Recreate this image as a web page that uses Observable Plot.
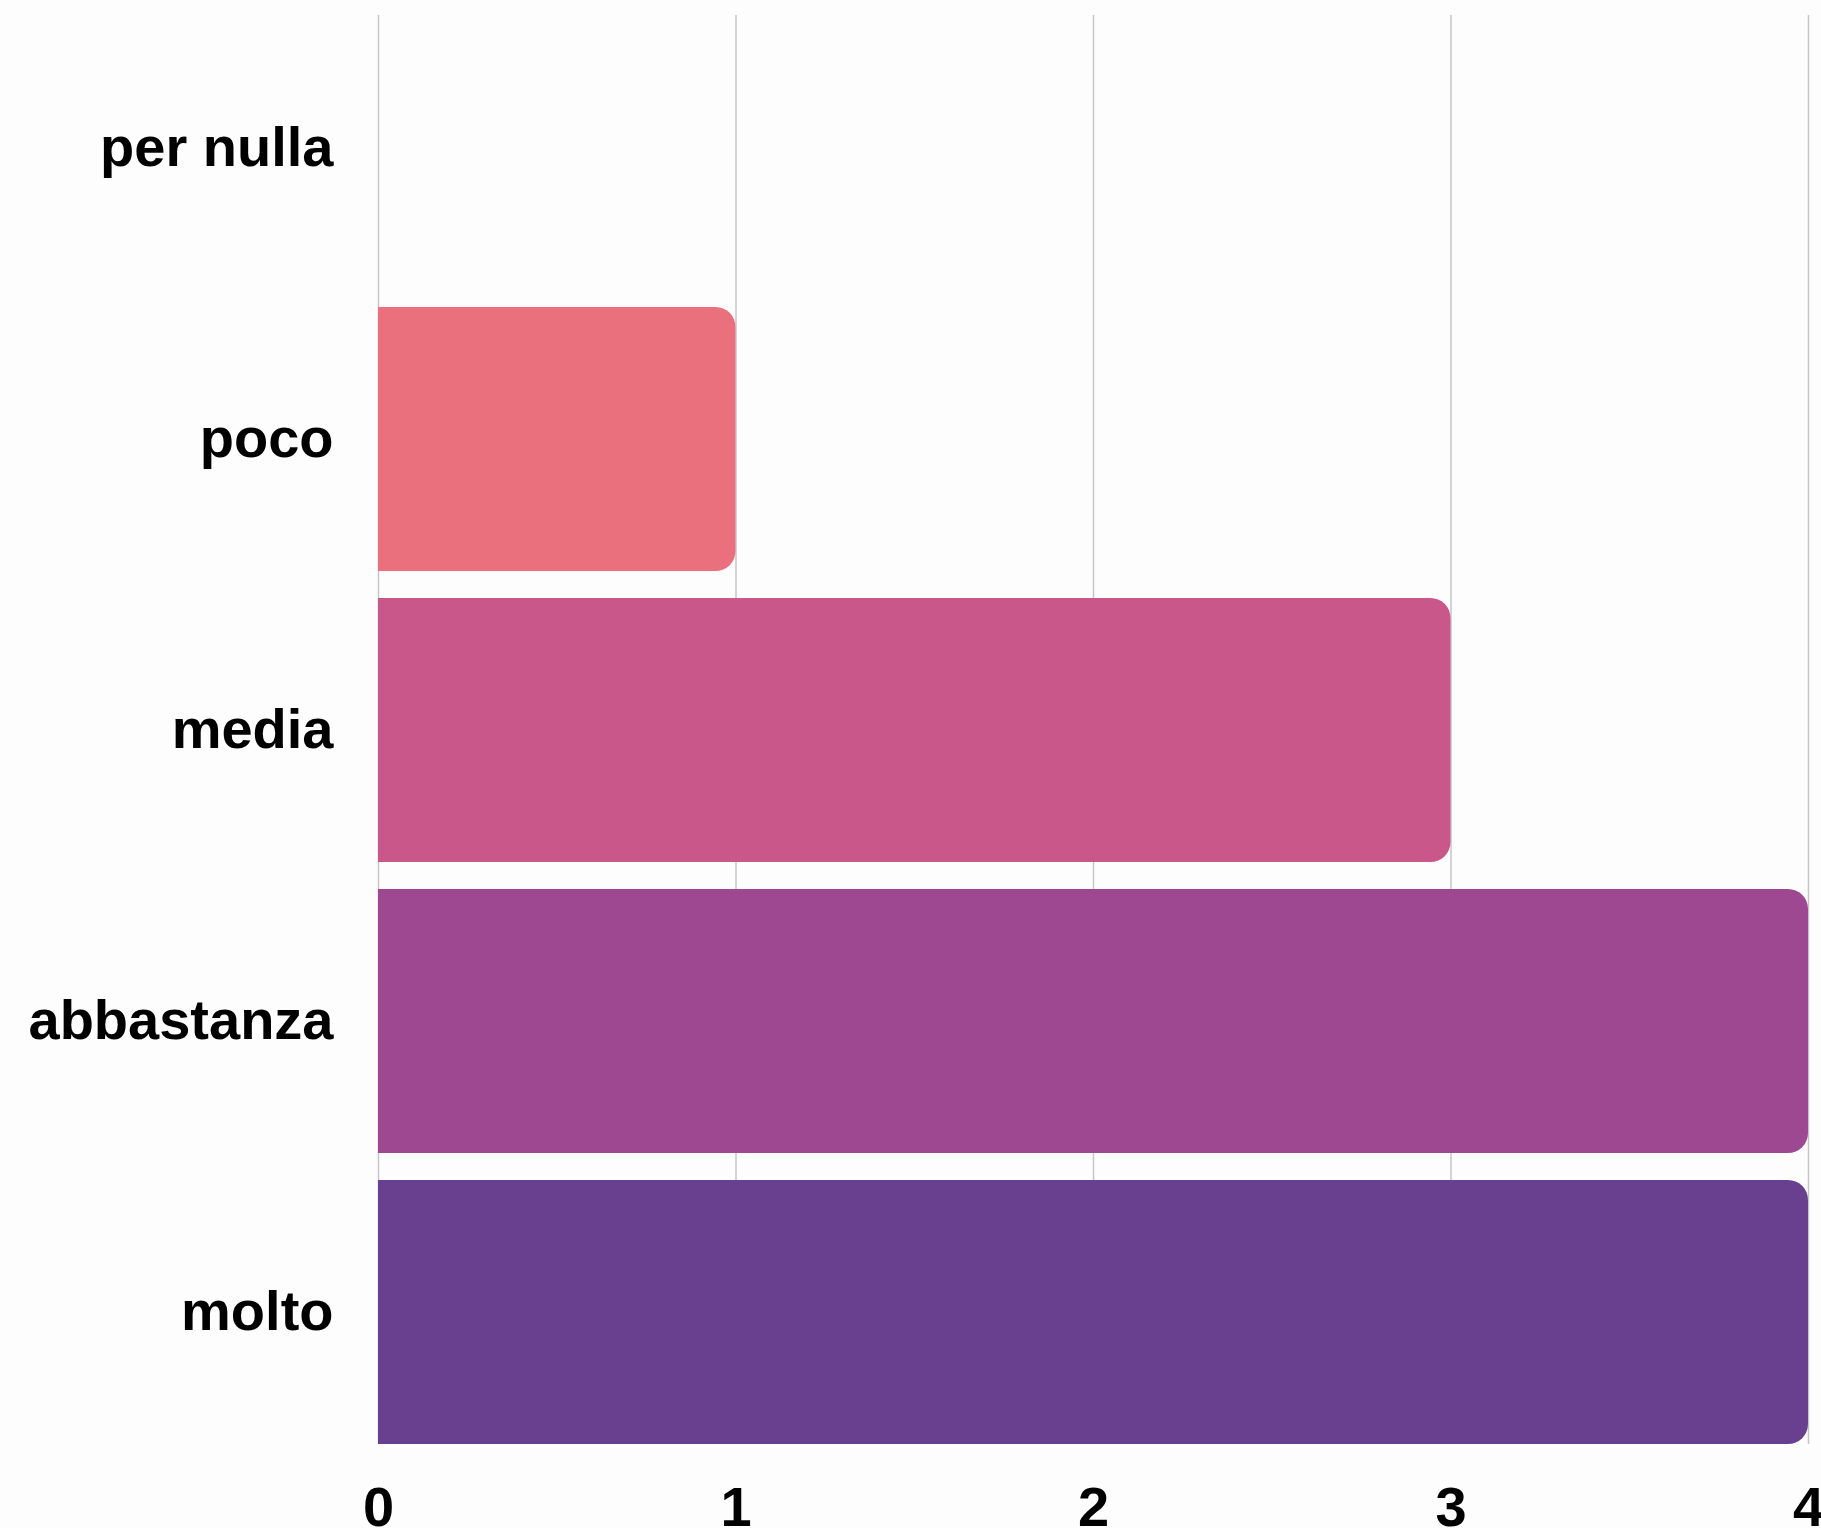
<!DOCTYPE html>
<html>
<head>
<meta charset="utf-8">
<script src="https://cdn.jsdelivr.net/npm/d3@7"></script>
<script src="https://cdn.jsdelivr.net/npm/@observablehq/plot@0.6"></script>
<style>
  html, body { margin: 0; padding: 0; background: #fdfdfd; }
</style>
</head>
<body>
<div id="chart"></div>
<script>
const categories = ["per nulla", "poco", "media", "abbastanza", "molto"];
const values = [0, 1, 3, 4, 4];
const colors = ["#f08a78", "#eb707e", "#ca578a", "#9d4891", "#693f8f"];
const xTicks = [0, 1, 2, 3, 4];

const data = categories.map((c, i) => ({category: c, value: values[i], color: colors[i]}));

const chart = Plot.plot({
  width: 1821,
  height: 1528,
  marginLeft: 378,
  marginRight: 13,
  marginTop: 15,
  marginBottom: 84,
  style: {background: "#fdfdfd", fontFamily: "'Liberation Sans', Arial, sans-serif", color: "#000"},
  x: {domain: [0, 4]},
  y: {domain: categories, paddingInner: 0.094, paddingOuter: 0},
  color: {type: "identity"},
  marks: [
    Plot.gridX({ticks: xTicks, stroke: "#c6c6c6", strokeOpacity: 1, strokeWidth: 1.5}),
    Plot.barX(data, {x: "value", y: "category", fill: "color", rx: 20}),
    Plot.barX(data, {x1: 0, x2: d => d.value / 2, y: "category", fill: "color"}),
    Plot.axisX({ticks: xTicks, tickSize: 0, tickPadding: 42, fontSize: 56, fontWeight: "bold", tickFormat: d3.format("d"), label: null}),
    Plot.axisY({tickSize: 0, tickPadding: 45, fontSize: 56, fontWeight: "bold", label: null})
  ]
});
document.getElementById("chart").append(chart);
</script>
</body>
</html>
